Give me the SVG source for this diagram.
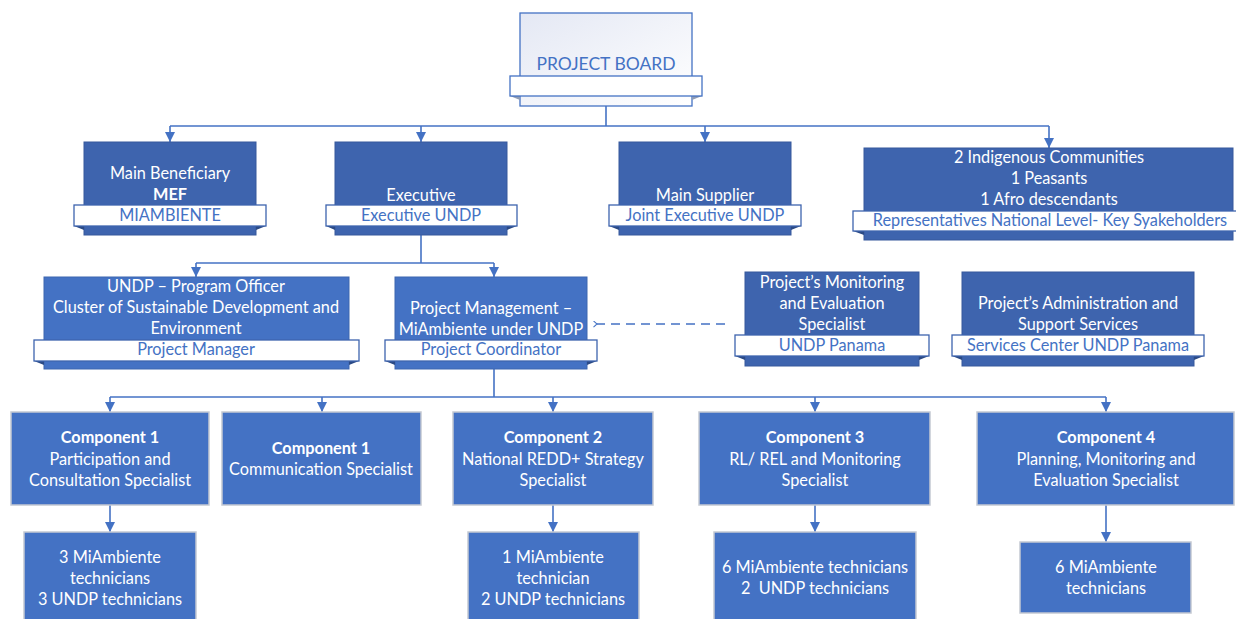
<svg xmlns="http://www.w3.org/2000/svg" width="1236" height="619" viewBox="0 0 1236 619">
  <style>
    text { font-family: Lato, "Liberation Sans", sans-serif; font-size: 16.3px; text-anchor: middle; }
    .w { fill: #ffffff; }
    .b { fill: #4472c4; }
    .bold { font-weight: bold; }
    .dark { fill: #3e64ae; stroke: #37599c; stroke-width: 1; }
    .mid { fill: #4472c4; stroke: #3d66b0; stroke-width: 1; }
    .comp { fill: #4472c4; stroke: #c4c9d2; stroke-width: 1.5; }
    .rib { fill: #ffffff; stroke: #3e64ae; stroke-width: 1.3; }
    .fold { fill: #2b4a86; }
    .conn { fill: none; stroke: #4472c4; stroke-width: 1.6; }
    .dash { fill: none; stroke: #4472c4; stroke-width: 1.4; stroke-dasharray: 9 6; }
  </style>
  <defs>
    <linearGradient id="boardFill" x1="0" y1="0" x2="1" y2="1">
      <stop offset="0" stop-color="#e4e8f4"/>
      <stop offset="1" stop-color="#ffffff"/>
    </linearGradient>
    <marker id="arrow" viewBox="0 0 10 10" refX="10" refY="5" markerWidth="10" markerHeight="10" markerUnits="userSpaceOnUse" orient="auto">
      <path d="M0,0 L10,5 L0,10 z" fill="#4472c4"/>
    </marker>
    <marker id="chev" viewBox="0 0 8 8" refX="1" refY="4" markerWidth="7" markerHeight="7" markerUnits="userSpaceOnUse" orient="auto">
      <path d="M5,0.5 L1,4 L5,7.5" fill="none" stroke="#4472c4" stroke-width="1.2"/>
    </marker>
  </defs>

  <!-- connectors -->
  <g id="connectors">
    <path class="conn" d="M606,106 V126"/>
    <path class="conn" d="M170,126 H1049"/>
    <path class="conn" d="M170,126 V142" marker-end="url(#arrow)"/>
    <path class="conn" d="M421,126 V142" marker-end="url(#arrow)"/>
    <path class="conn" d="M705,126 V142" marker-end="url(#arrow)"/>
    <path class="conn" d="M1049,126 V148" marker-end="url(#arrow)"/>

    <path class="conn" d="M421,235 V263"/>
    <path class="conn" d="M196,263 H494"/>
    <path class="conn" d="M196,263 V277" marker-end="url(#arrow)"/>
    <path class="conn" d="M494,263 V277" marker-end="url(#arrow)"/>

    <path class="dash" d="M725,324 H597" marker-end="url(#chev)"/>

    <path class="conn" d="M494,369 V397"/>
    <path class="conn" d="M110,397 H1106"/>
    <path class="conn" d="M110,397 V412" marker-end="url(#arrow)"/>
    <path class="conn" d="M322,397 V412" marker-end="url(#arrow)"/>
    <path class="conn" d="M553,397 V412" marker-end="url(#arrow)"/>
    <path class="conn" d="M815,397 V412" marker-end="url(#arrow)"/>
    <path class="conn" d="M1106,397 V412" marker-end="url(#arrow)"/>

    <path class="conn" d="M110,505 V532" marker-end="url(#arrow)"/>
    <path class="conn" d="M553,505 V532" marker-end="url(#arrow)"/>
    <path class="conn" d="M815,505 V532" marker-end="url(#arrow)"/>
    <path class="conn" d="M1106,505 V542" marker-end="url(#arrow)"/>
  </g>

  <!-- board -->
  <g id="project-board">
    <rect x="520" y="13" width="172" height="93" fill="url(#boardFill)" stroke="#4472c4" stroke-width="1.3"/>
    <path d="M510,96 L520,96 L520,100 z M702,96 L692,96 L692,100 z" fill="#8e9bb5"/>
    <rect x="510" y="76" width="192" height="20" fill="#ffffff" stroke="#4472c4" stroke-width="1.3"/>
    <text x="606" y="70" class="b" style="font-size:17.5px">PROJECT BOARD</text>
  </g>

  <!-- second row -->
  <g id="main-beneficiary">
    <rect class="dark" x="84" y="142" width="172" height="93"/>
    <path class="fold" d="M74,226 L84,226 L84,230 z M266,226 L256,226 L256,230 z"/>
    <rect class="rib" x="74" y="205" width="192" height="21"/>
    <text x="170" y="179" class="w">Main Beneficiary</text>
    <text x="170" y="200" class="w bold">MEF</text>
    <text x="170" y="221" class="b">MIAMBIENTE</text>
  </g>
  <g id="executive">
    <rect class="dark" x="335" y="142" width="172" height="93"/>
    <path class="fold" d="M326,226 L335,226 L335,230 z M517,226 L507,226 L507,230 z"/>
    <rect class="rib" x="326" y="205" width="191" height="21"/>
    <text x="421" y="201" class="w">Executive</text>
    <text x="421" y="221" class="b">Executive UNDP</text>
  </g>
  <g id="main-supplier">
    <rect class="dark" x="619" y="142" width="172" height="93"/>
    <path class="fold" d="M609,226 L619,226 L619,230 z M801,226 L791,226 L791,230 z"/>
    <rect class="rib" x="609" y="205" width="192" height="21"/>
    <text x="705" y="201" class="w">Main Supplier</text>
    <text x="705" y="221" class="b">Joint Executive UNDP</text>
  </g>
  <g id="representatives">
    <rect class="dark" x="864" y="148" width="369" height="92"/>
    <path class="fold" d="M853,231 L864,231 L864,235 z"/>
    <rect class="rib" x="853" y="211" width="385" height="20"/>
    <text x="1049" y="163" class="w">2 Indigenous Communities</text>
    <text x="1049" y="184" class="w">1 Peasants</text>
    <text x="1049" y="205" class="w">1 Afro descendants</text>
    <text x="1050" y="226" class="b">Representatives National Level- Key Syakeholders</text>
  </g>

  <!-- third row -->
  <g id="program-officer">
    <rect class="mid" x="44" y="277" width="305" height="92"/>
    <path class="fold" d="M34,361 L44,361 L44,365 z M359,361 L349,361 L349,365 z"/>
    <rect class="rib" x="34" y="340" width="325" height="21"/>
    <text x="196" y="292" class="w">UNDP – Program Officer</text>
    <text x="196" y="313" class="w">Cluster of Sustainable Development and</text>
    <text x="196" y="334" class="w">Environment</text>
    <text x="196" y="355" class="b">Project Manager</text>
  </g>
  <g id="project-management">
    <rect class="mid" x="395" y="277" width="192" height="92"/>
    <path class="fold" d="M385,361 L395,361 L395,365 z M597,361 L587,361 L587,365 z"/>
    <rect class="rib" x="385" y="340" width="212" height="21"/>
    <text x="491" y="314" class="w">Project Management –</text>
    <text x="491" y="335" class="w">MiAmbiente under UNDP</text>
    <text x="491" y="355" class="b">Project Coordinator</text>
  </g>
  <g id="monitoring-evaluation">
    <rect class="dark" x="745" y="272" width="174" height="94"/>
    <path class="fold" d="M735,356 L745,356 L745,360 z M929,356 L919,356 L919,360 z"/>
    <rect class="rib" x="735" y="335" width="194" height="21"/>
    <text x="832" y="288" class="w">Project’s Monitoring</text>
    <text x="832" y="309" class="w">and Evaluation</text>
    <text x="832" y="330" class="w">Specialist</text>
    <text x="832" y="351" class="b">UNDP Panama</text>
  </g>
  <g id="administration">
    <rect class="dark" x="962" y="272" width="232" height="94"/>
    <path class="fold" d="M952,356 L962,356 L962,360 z M1204,356 L1194,356 L1194,360 z"/>
    <rect class="rib" x="952" y="335" width="252" height="21"/>
    <text x="1078" y="309" class="w">Project’s Administration and</text>
    <text x="1078" y="330" class="w">Support Services</text>
    <text x="1078" y="351" class="b">Services Center UNDP Panama</text>
  </g>

  <!-- components -->
  <g id="component-1-participation">
    <rect class="comp" x="11" y="412" width="198" height="93"/>
    <text x="110" y="443" class="w bold">Component 1</text>
    <text x="110" y="465" class="w">Participation and</text>
    <text x="110" y="486" class="w">Consultation Specialist</text>
  </g>
  <g id="component-1-communication">
    <rect class="comp" x="222" y="412" width="199" height="93"/>
    <text x="321" y="454" class="w bold">Component 1</text>
    <text x="321" y="475" class="w">Communication Specialist</text>
  </g>
  <g id="component-2">
    <rect class="comp" x="453" y="412" width="200" height="93"/>
    <text x="553" y="443" class="w bold">Component 2</text>
    <text x="553" y="465" class="w">National REDD+ Strategy</text>
    <text x="553" y="486" class="w">Specialist</text>
  </g>
  <g id="component-3">
    <rect class="comp" x="699" y="412" width="231" height="93"/>
    <text x="815" y="443" class="w bold">Component 3</text>
    <text x="815" y="465" class="w">RL/ REL and Monitoring</text>
    <text x="815" y="486" class="w">Specialist</text>
  </g>
  <g id="component-4">
    <rect class="comp" x="977" y="412" width="257" height="93"/>
    <text x="1106" y="443" class="w bold">Component 4</text>
    <text x="1106" y="465" class="w">Planning, Monitoring and</text>
    <text x="1106" y="486" class="w">Evaluation Specialist</text>
  </g>

  <!-- technician teams -->
  <g id="team-component-1">
    <rect class="comp" x="24" y="532" width="172" height="95"/>
    <text x="110" y="563" class="w">3 MiAmbiente</text>
    <text x="110" y="584" class="w">technicians</text>
    <text x="110" y="605" class="w">3 UNDP technicians</text>
  </g>
  <g id="team-component-2">
    <rect class="comp" x="468" y="532" width="171" height="95"/>
    <text x="553" y="563" class="w">1 MiAmbiente</text>
    <text x="553" y="584" class="w">technician</text>
    <text x="553" y="605" class="w">2 UNDP technicians</text>
  </g>
  <g id="team-component-3">
    <rect class="comp" x="714" y="532" width="202" height="95"/>
    <text x="815" y="573" class="w">6 MiAmbiente technicians</text>
    <text x="815" y="594" class="w" xml:space="preserve">2  UNDP technicians</text>
  </g>
  <g id="team-component-4">
    <rect class="comp" x="1020" y="542" width="171" height="71"/>
    <text x="1106" y="573" class="w">6 MiAmbiente</text>
    <text x="1106" y="594" class="w">technicians</text>
  </g>
</svg>
